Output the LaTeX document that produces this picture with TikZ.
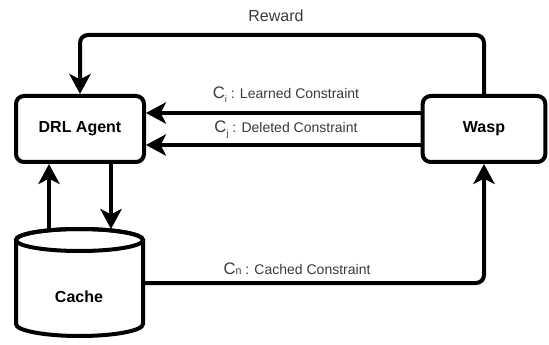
\documentclass[tikz,border=0pt]{standalone}
\usepackage{fontspec}
\setmainfont{Liberation Sans}
\usetikzlibrary{arrows.meta,calc}
\definecolor{lbl}{HTML}{3A3A3A}
\tikzset{
  boxnode/.style={draw, line width=3pt, rounded corners=6pt, fill=white, minimum height=49.5pt, inner sep=0pt, font=\fontsize{12}{14}\selectfont\bfseries},
  conn/.style={line width=3pt, -{Stealth[length=15pt, width=16pt, inset=4pt]}},
  plainline/.style={line width=3pt},
  lbltext/.style={text=lbl, font=\fontsize{10.5}{12}\selectfont, inner sep=0pt},
}
\newcommand{\bigC}{{\fontsize{12.5}{14}\selectfont C}}
\newcommand{\subsc}[1]{\raisebox{-3pt}{\fontsize{7}{8}\selectfont #1}}
\begin{document}
\begin{tikzpicture}[x=0.75pt, y=-0.75pt]
\useasboundingbox (0,0) rectangle (549,345);
% boxes
\node[boxnode, minimum width=96pt] (drl) at (80,129) {DRL Agent};
\node[boxnode, minimum width=92pt] (wasp) at (484,129) {Wasp};
% cylinder
\draw[plainline, fill=white] (16,240) -- (16,324) arc[start angle=180, end angle=360, x radius=47.625pt, y radius=9pt] -- (143,240) arc[start angle=0, end angle=180, x radius=47.625pt, y radius=8.25pt] -- cycle;
\draw[plainline] (79.5,240) ellipse [x radius=47.625pt, y radius=8.25pt];
\node[font=\fontsize{12}{14}\selectfont\bfseries, inner sep=0pt] (cache) at (79,297) {Cache};
\coordinate (ctl) at (49,229);
\coordinate (ctr) at (111,229);
\coordinate (cr) at (143,283);
% connectors
\draw[conn, rounded corners=6pt] (wasp.north) |- ($(drl.north)+(0,-59)$) -- (drl.north);
\draw[conn] ([yshift=12pt]wasp.west) -- ([yshift=12pt]drl.east);
\draw[conn] ([yshift=-12pt]wasp.west) -- ([yshift=-12pt]drl.east);
\draw[conn] (ctl) -- (ctl |- drl.south);
\draw[conn] (drl.south -| ctr) -- (ctr);
\draw[conn, rounded corners=6pt] (cr) -| (wasp.south);
% labels
\node[lbltext, font=\fontsize{12}{14}\selectfont] (rl) at (276,16) {Reward};
\node[lbltext] (cil) at (286,95) {\bigC\subsc{i} : Learned Constraint};
\node[lbltext] (cjl) at (286,130) {\bigC\subsc{j} : Deleted Constraint};
\node[lbltext] (cnl) at (297,269) {\bigC{\fontsize{8}{9}\selectfont n} : Cached Constraint};
\end{tikzpicture}
\end{document}
